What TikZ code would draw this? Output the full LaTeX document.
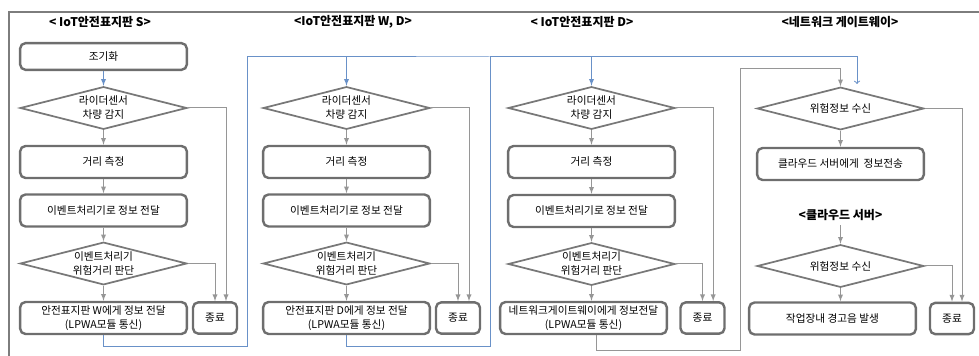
\documentclass[tikz,border=0pt]{standalone}
\usepackage{fontspec}
\usepackage{xcolor}
\newfontfamily\kr{Noto Sans CJK KR}
\usetikzlibrary{arrows,shapes,positioning,calc}
\definecolor{boxgray}{RGB}{110,110,110}
\definecolor{diagray}{RGB}{120,120,120}
\definecolor{linegray}{RGB}{150,150,150}
\definecolor{framegray}{RGB}{125,125,125}
\definecolor{flowblue}{RGB}{105,145,200}

\begin{document}
\begin{tikzpicture}[x=0.75pt,y=-0.75pt,
  font=\kr\fontsize{8}{10.5}\selectfont,
  box/.style={draw=boxgray,line width=1.8pt,rounded corners=4pt,minimum width=125pt,minimum height=24pt,inner sep=0pt,align=center},
  endbox/.style={box,minimum width=33pt,minimum height=23.5pt},
  cond/.style={diamond,draw=diagray,line width=1.3pt,aspect=3.9,minimum width=125pt,minimum height=32pt,inner sep=-4pt,align=center},
  title/.style={font=\kr\bfseries\fontsize{9}{10}\selectfont},
  flow/.style={draw=linegray,line width=0.75pt,-latex},
  link/.style={draw=flowblue,line width=0.75pt,-latex},
  frame/.style={draw=framegray,line width=1.5pt}]
\useasboundingbox (0,0) rectangle (979,356);

% Frame
\draw[frame] (979,12) -| (9,356);

% Titles
\node[title] (titleS) at (100,22) {< IoT안전표지판 S>};
\node[title] (titleW) at (353,22) {<IoT안전표지판 W, D>};
\node[title] (titleD) at (582,22) {< IoT안전표지판 D>};
\node[title] (titleGW) at (840,22) {<네트워크 게이트웨이>};
\node[title] (titleCloud) at (840.5,215) {<클라우드 서버>};

% Sign S
\node[box,minimum height=20pt] (initS) at (103.5,56.5) {조기화};
\node[cond] (lidarS) at (103.5,108) {라이더센서\\차량 감지};
\node[box] (distS) at (103.5,162) {거리 측정};
\node[box] (eventS) at (103.5,210.5) {이벤트처리기로 정보 전달};
\node[cond] (judgeS) at (103.5,263.5) {이벤트처리기\\위험거리 판단};
\node[box] (sendS) at (103.5,318) {안전표지판 W에게 정보 전달\\(LPWA모듈 통신)};
\node[endbox] (endS) at (215,318) {종료};

% Sign W, D
\node[cond] (lidarW) at (346.5,108) {라이더센서\\차량 감지};
\node[box] (distW) at (346.5,162) {거리 측정};
\node[box] (eventW) at (346.5,210.5) {이벤트처리기로 정보 전달};
\node[cond] (judgeW) at (346.5,263.5) {이벤트처리기\\위험거리 판단};
\node[box] (sendW) at (346.5,318) {안전표지판 D에게 정보 전달\\(LPWA모듈 통신)};
\node[endbox] (endW) at (458,318) {종료};

% Sign D
\node[cond] (lidarD) at (591.5,108) {라이더센서\\차량 감지};
\node[box] (distD) at (591.5,162) {거리 측정};
\node[box] (eventD) at (591.5,211) {이벤트처리기로 정보 전달};
\node[cond] (judgeD) at (591.5,264) {이벤트처리기\\위험거리 판단};
\node[box] (sendD) at (583.5,318) {네트워크게이트웨이에게 정보전달\\(LPWA모듈 통신)};
\node[endbox] (endD) at (702.5,318) {종료};

% Gateway and cloud
\node[cond] (gwRecv) at (840.5,108.5) {위험정보 수신};
\node[box] (gwSend) at (840.5,164) {클라우드 서버에게~~정보전송};
\node[cond] (cloudRecv) at (840.5,266) {위험정보 수신};
\node[box] (alarm) at (832.5,318.5) {작업장내 경고음 발생};
\node[endbox] (endGW) at (952,318.5) {종료};

% Bends
\coordinate (loopS) at (247,346);
\coordinate (loopW) at (490,346);
\coordinate (loopD) at (740,350);
\coordinate (loopDtop) at (740,69);
\coordinate (busTop) at (490,57);
\coordinate (gwIn) at (857,84);

% Flow S
\draw[link] (initS) -- (lidarS);
\draw[flow] (lidarS) -- (distS);
\draw[flow] (distS) -- (eventS);
\draw[flow] (eventS) -- (judgeS);
\draw[flow] (judgeS) -- (sendS);
\draw[flow] (lidarS.east) -| ([xshift=8.25pt]endS.north);
\draw[flow] (judgeS.east) -| (endS.north);
\draw[link] (sendS.south) |- (loopS) |- (busTop) -| (lidarW.north);

% Flow W, D
\draw[flow] (lidarW) -- (distW);
\draw[flow] (distW) -- (eventW);
\draw[flow] (eventW) -- (judgeW);
\draw[flow] (judgeW) -- (sendW);
\draw[flow] (lidarW.east) -| ([xshift=8.25pt]endW.north);
\draw[flow] (judgeW.east) -| (endW.north);
\draw[link] (sendW.south) |- (loopW) -- (busTop) -| (lidarD.north);
\draw[link,-to] (busTop) -| (gwIn);

% Flow D
\draw[flow] (lidarD) -- (distD);
\draw[flow] (distD) -- (eventD);
\draw[flow] (eventD) -- (judgeD);
\draw[flow] (judgeD) -- (judgeD |- sendD.north);
\draw[flow] (lidarD.east) -| ([xshift=8pt]endD.north);
\draw[flow] (judgeD.east) -| (endD.north);
\draw[flow] ([xshift=10pt]sendD.south) |- (loopD) -- (loopDtop) -| (gwRecv.north);

% Flow gateway and cloud
\draw[flow] (gwRecv) -- (gwSend);
\draw[flow] (gwRecv.east) -| ([xshift=7.5pt]endGW.north);
\draw[flow] (titleCloud) -- (cloudRecv);
\draw[flow] (cloudRecv) -- (cloudRecv |- alarm.north);
\draw[flow] (cloudRecv.east) -| (endGW.north);

\end{tikzpicture}
\end{document}
